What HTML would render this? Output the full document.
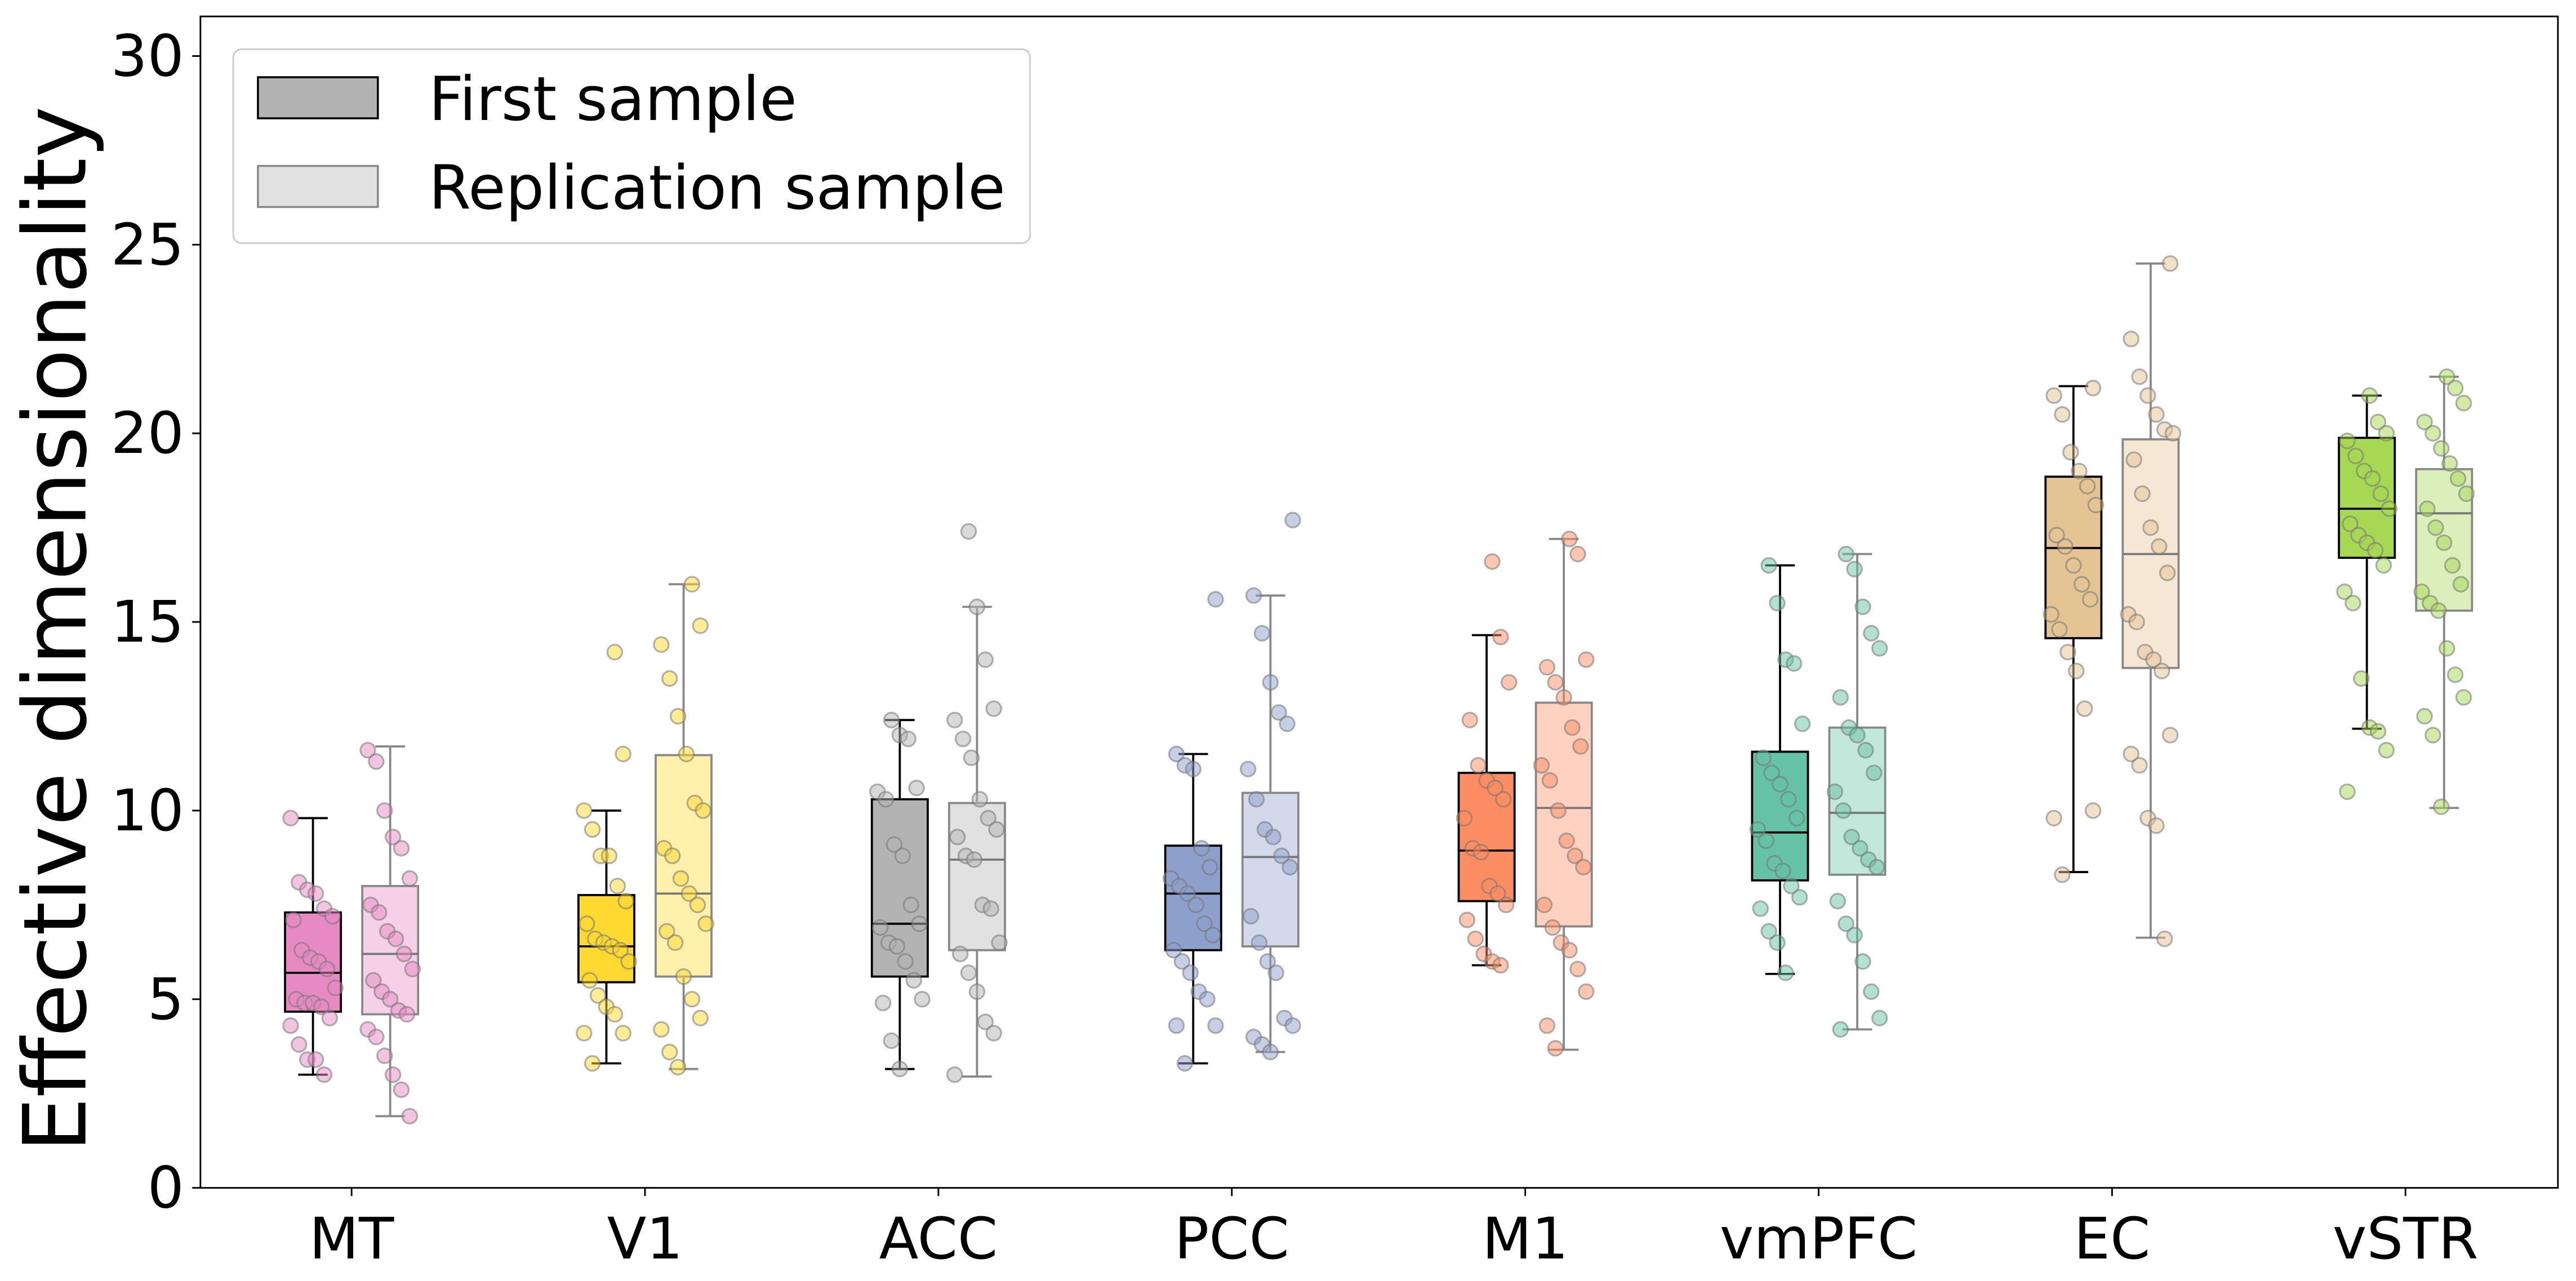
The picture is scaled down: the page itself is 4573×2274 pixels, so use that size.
<!DOCTYPE html>
<html><head><meta charset="utf-8"><style>
html,body{margin:0;padding:0;background:#fff;}
svg{display:block;font-family:"DejaVu Sans","Liberation Sans",sans-serif;}
</style></head><body>
<svg id="chart" width="4573" height="2274" viewBox="0 0 1568 779.7" preserveAspectRatio="none" xmlns="http://www.w3.org/2000/svg"></svg>
<script>
const regions = ["MT","V1","ACC","PCC","M1","vmPFC","EC","vSTR"];
const colors = ["#e78ac3","#ffd92f","#b3b3b3","#8da0cb","#fc8d62","#66c2a5","#e5c494","#a6d854"];
// [whiskerLow, Q1, median, Q3, whiskerHigh]
const firstStats = [[3.0,4.67,5.7,7.3,9.8],[3.3,5.45,6.4,7.76,10.0],[3.15,5.6,7.0,10.3,12.4],[3.3,6.3,7.8,9.07,11.5],[5.9,7.6,8.94,11.0,14.65],[5.67,8.15,9.42,11.56,16.5],[8.37,14.57,16.96,18.85,21.25],[12.17,16.7,18.0,19.88,21.0]];
const replStats = [[1.9,4.6,6.2,8.0,11.7],[3.15,5.6,7.8,11.47,16.0],[2.95,6.3,8.7,10.2,15.4],[3.6,6.4,8.77,10.47,15.7],[3.66,6.93,10.07,12.86,17.2],[4.2,8.3,9.94,12.2,16.8],[6.63,13.78,16.8,19.84,24.5],[10.07,15.3,17.88,19.05,21.5]];
const firstPoints = [
 [9.8,8.1,7.9,7.8,7.4,7.2,7.1,6.3,6.1,6.0,5.8,5.3,5.0,4.9,4.9,4.8,4.5,4.3,3.8,3.4,3.4,3.0],
 [14.2,11.5,10.0,9.5,8.8,8.8,8.0,7.6,7.0,6.6,6.5,6.4,6.3,6.0,5.5,5.1,4.8,4.6,4.1,4.1,3.3],
 [12.4,12.0,11.9,10.6,10.5,10.3,9.1,8.8,7.5,7.0,6.9,6.5,6.4,6.0,5.5,5.0,4.9,3.9,3.15],
 [15.6,11.5,11.2,11.1,9.0,8.5,8.2,8.0,7.8,7.5,7.0,6.7,6.3,6.0,5.7,5.2,5.0,4.3,4.3,3.3],
 [16.6,14.6,13.4,12.4,11.2,10.8,10.6,10.3,9.8,9.0,8.9,8.0,7.8,7.5,7.1,6.6,6.2,6.0,5.9],
 [16.5,15.5,14.0,13.9,12.3,11.4,11.0,10.7,10.3,9.8,9.5,9.2,8.6,8.4,8.0,7.7,7.4,6.8,6.5,5.7],
 [21.2,21.0,20.5,19.5,19.0,18.6,18.1,17.3,17.0,16.5,16.0,15.6,15.2,14.8,14.2,13.7,12.7,10.0,9.8,8.3],
 [21.0,20.3,20.0,19.8,19.4,19.0,18.8,18.4,18.0,17.6,17.3,17.1,16.9,16.5,15.8,15.5,13.5,12.2,12.1,11.6,10.5]
];
const replPoints = [
 [11.6,11.3,10.0,9.3,9.0,8.2,7.5,7.3,6.8,6.6,6.2,5.8,5.5,5.2,5.0,4.7,4.6,4.2,4.0,3.5,3.0,2.6,1.9],
 [16.0,14.9,14.4,13.5,12.5,11.5,10.2,10.0,9.0,8.8,8.2,7.8,7.5,7.0,6.8,6.5,5.6,5.0,4.5,4.2,3.6,3.2],
 [17.4,15.4,14.0,12.7,12.4,11.9,11.4,10.3,9.8,9.5,9.3,8.8,8.7,7.5,7.4,6.5,6.2,5.7,5.2,4.4,4.1,3.0],
 [17.7,15.7,14.7,13.4,12.6,12.3,11.1,10.3,9.5,9.3,8.8,8.5,7.2,6.5,6.0,5.7,4.5,4.3,4.0,3.8,3.6],
 [17.2,16.8,14.0,13.8,13.4,13.0,12.2,11.7,11.2,10.8,10.0,9.2,8.8,8.5,7.5,6.9,6.5,6.3,5.8,5.2,4.3,3.7],
 [16.8,16.4,15.4,14.7,14.3,13.0,12.2,12.0,11.6,11.0,10.5,10.0,9.3,9.0,8.7,8.5,7.6,7.0,6.7,6.0,5.2,4.5,4.2],
 [24.5,22.5,21.5,21.0,20.5,20.1,20.0,19.3,18.4,17.5,17.0,16.3,15.2,15.0,14.2,14.0,13.7,12.0,11.5,11.2,9.8,9.6,6.6],
 [21.5,21.2,20.8,20.3,20.0,19.6,19.2,18.8,18.4,18.0,17.5,17.1,16.5,16.0,15.8,15.5,15.3,14.3,13.6,13.0,12.5,12.0,10.1]
];
const yTicks = [0,5,10,15,20,25,30];

const svg = document.getElementById('chart');
const NS = 'http://www.w3.org/2000/svg';
const L=122, R=1557, T=10, B=723, YMAX=31.05;
const y = v => B - v*(B-T)/YMAX;
const xc = i => 214 + i*178.6;
const OFF = 23.5, BW = 34;
function mk(tag, attrs, parent){const e=document.createElementNS(NS,tag);for(const k in attrs)e.setAttribute(k,attrs[k]);(parent||svg).appendChild(e);return e;}

function drawBox(i, st, pts, isRepl){
  const cx = xc(i) + (isRepl?OFF:-OFF);
  const g = mk('g',{});
  
  
  const stroke = isRepl ? '#888' : '#000';
  const op = isRepl ? 0.4 : 1;
  mk('line',{x1:cx,x2:cx,y1:y(st[0]),y2:y(st[1]),stroke:stroke,'stroke-width':1.3},g);
  mk('line',{x1:cx,x2:cx,y1:y(st[3]),y2:y(st[4]),stroke:stroke,'stroke-width':1.3},g);
  mk('line',{x1:cx-9,x2:cx+9,y1:y(st[0]),y2:y(st[0]),stroke:stroke,'stroke-width':1.3},g);
  mk('line',{x1:cx-9,x2:cx+9,y1:y(st[4]),y2:y(st[4]),stroke:stroke,'stroke-width':1.3},g);
  mk('rect',{x:cx-BW/2,y:y(st[3]),width:BW,height:y(st[1])-y(st[3]),fill:colors[i],'fill-opacity':op,stroke:stroke,'stroke-width':1.3},g);
  mk('line',{x1:cx-BW/2,x2:cx+BW/2,y1:y(st[2]),y2:y(st[2]),stroke:isRepl?'#777':'#000','stroke-width':1.3},g);
  pts.forEach((v,k)=>{
    const j = (((k*37+i*11)%17)/16 - 0.5) * BW * 0.8;
    const c = mk('circle',{cx:cx+j,cy:y(v),r:4.5,fill:colors[i],'fill-opacity':0.5,stroke:'#777','stroke-opacity':0.55,'stroke-width':1.1},g);
    
    
  });
}
regions.forEach((r,i)=>{drawBox(i,firstStats[i],firstPoints[i],false);drawBox(i,replStats[i],replPoints[i],true);});

const frame = mk('rect',{x:L,y:T,width:R-L,height:B-T,fill:'none',stroke:'#000','stroke-width':1});


yTicks.forEach(t=>{
  mk('line',{x1:L-5,x2:L,y1:y(t),y2:y(t),stroke:'#000','stroke-width':1});
  const tx = mk('text',{x:L-10,y:y(t)+12,'text-anchor':'end','font-size':35,fill:'#000'});
  tx.textContent=t;
  
  
});
regions.forEach((r,i)=>{
  mk('line',{x1:xc(i),x2:xc(i),y1:B,y2:B+5,stroke:'#000','stroke-width':1});
  const tx = mk('text',{x:xc(i),y:B+43,'text-anchor':'middle','font-size':35,fill:'#000'});
  tx.textContent=r;
  
  
});
const yl = mk('text',{x:0,y:0,transform:'translate(52,383) rotate(-90)','text-anchor':'middle','font-size':53,fill:'#000'});
yl.textContent='Effective dimensionality';



const lg = mk('g',{});


mk('rect',{x:142,y:30,width:485,height:118,rx:5,fill:'#fff',stroke:'#ccc','stroke-width':1},lg);
mk('rect',{x:157,y:47,width:73,height:25,fill:'#b3b3b3',stroke:'#000','stroke-width':1.2},lg);
mk('rect',{x:157,y:101,width:73,height:25,fill:'#b3b3b3','fill-opacity':0.4,stroke:'#888','stroke-width':1.2},lg);
const t1 = mk('text',{x:261,y:73,'font-size':37,fill:'#000'},lg); t1.textContent='First sample';


const t2 = mk('text',{x:261,y:127,'font-size':37,fill:'#000'},lg); t2.textContent='Replication sample';


</script>
</body></html>
